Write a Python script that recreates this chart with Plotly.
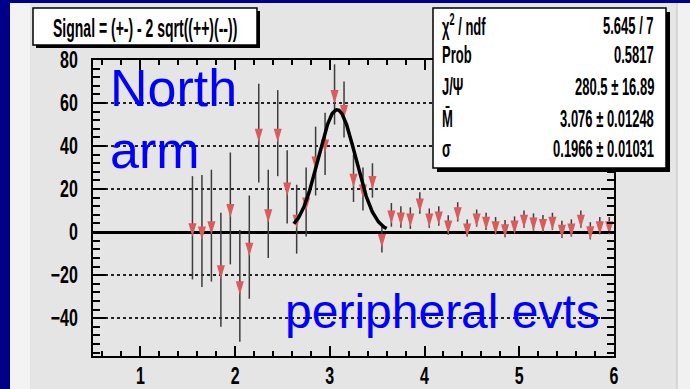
import numpy as np
import plotly.graph_objects as go

# Signal per 0.1 GeV mass bin: bin centres, values and errors
mass = [1.55, 1.65, 1.75, 1.85, 1.95, 2.05, 2.15, 2.25, 2.35, 2.45,
        2.55, 2.65, 2.75, 2.85, 2.95, 3.05, 3.15, 3.25, 3.35, 3.45,
        3.55, 3.65, 3.75, 3.85, 3.95, 4.05, 4.15, 4.25, 4.35, 4.45,
        4.55, 4.65, 4.75, 4.85, 4.95, 5.05, 5.15, 5.25, 5.35, 5.45,
        5.55, 5.65, 5.75, 5.85, 5.95]
signal = [2.0, 0.5, 3.0, -17.5, 11.0, -25.0, -7.0, 46.0, 8.5, 46.0,
          21.0, 6.0, 14.0, 33.0, 41.0, 64.0, 57.0, 25.0, 20.0, 24.0,
          -3.0, 8.0, 7.0, 6.5, 13.5, 6.5, 7.5, 3.3, 9.4, 1.9,
          6.5, 5.0, 3.0, 1.6, 3.3, 6.0, 4.7, 4.0, 5.0, 1.3,
          1.9, 6.0, 0.6, 3.0, 3.0]
signal_err = [24, 26, 26, 26.5, 26, 26, 24, 23, 20.5, 20,
              17, 16, 16, 16, 14.5, 14, 13, 11, 10, 8,
              6.5, 5.5, 5, 5, 5, 4.5, 4.5, 4.5, 4.5, 4,
              4, 4, 4, 4, 4, 4, 4, 4, 4, 4,
              4, 4, 4, 4, 4]

# Gaussian fit results
fit_yield = 280.5
fit_yield_err = 16.89
fit_mean = 3.076
fit_mean_err = 0.01248
fit_sigma = 0.1966
fit_sigma_err = 0.01031
chi2, ndf, prob = 5.645, 7, 0.5817
bin_width = 0.1
fit_range = (2.62, 3.6)

x_ticks = [1, 2, 3, 4, 5, 6]
y_ticks = [-40, -20, 0, 20, 40, 60, 80]

xf = np.linspace(fit_range[0], fit_range[1], 200)
yf = fit_yield * bin_width / (np.sqrt(2 * np.pi) * fit_sigma) * np.exp(-0.5 * ((xf - fit_mean) / fit_sigma) ** 2)

W, H = 690, 389
L, R, T, B = 93, 614, 60, 356


def fx(px):
    return (px - L) / (R - L)


def fy(py):
    return (B - py) / (B - T)


fig = go.Figure()
fig.add_trace(go.Scatter(
    x=mass, y=signal, mode="markers",
    marker=dict(symbol="triangle-down", size=10, color="#d95b5c", line=dict(width=0)),
    error_y=dict(type="data", array=signal_err, visible=True, color="#3c3c3c", thickness=1.5, width=0),
    showlegend=False, hoverinfo="skip"))
fig.add_trace(go.Scatter(
    x=xf, y=yf, mode="lines", line=dict(color="black", width=3.5),
    showlegend=False, hoverinfo="skip"))

root_font = "Arial, Liberation Sans, sans-serif"
axis_common = dict(showline=True, linecolor="black", linewidth=2, mirror="ticks",
                   ticks="inside", tickcolor="black", tickwidth=2, automargin=False,
                   tickfont=dict(family=root_font, size=16, color="black", weight="bold"))

fig.update_xaxes(range=[0.5, 6], tickvals=x_ticks, ticklen=10, showgrid=False, zeroline=False,
                 minor=dict(dtick=0.2, tick0=0, ticklen=5, ticks="inside", tickcolor="black", tickwidth=1.5),
                 ticklabelstandoff=4, **axis_common)
fig.update_yaxes(range=[-57.6, 80], tickvals=y_ticks, ticklen=13,
                 showgrid=True, gridcolor="#222222", gridwidth=1.5, griddash="dot",
                 zeroline=True, zerolinecolor="black", zerolinewidth=2.5,
                 minor=dict(dtick=4, tick0=0, ticklen=7, ticks="inside", tickcolor="black", tickwidth=1.5),
                 ticklabelstandoff=10, **axis_common)

shapes = []


def rect(x0, y0, x1, y1, fill, line_color=None, line_width=0, layer="above"):
    shapes.append(dict(type="rect", xref="paper", yref="paper",
                       x0=fx(x0), x1=fx(x1), y0=fy(y1), y1=fy(y0),
                       fillcolor=fill, layer=layer,
                       line=dict(color=line_color or fill, width=line_width)))


# slide background around the canvas
rect(0, 0, 10, H, "#000088", layer="below")
rect(0, 0, W, 3, "#000090", layer="below")
rect(10, 3, 30, H, "#f3f3f3", layer="below")
rect(677, 3, W, H, "#f1f1f1", layer="below")
rect(676.5, 3, 677.5, H, "#c4c4c4", layer="below")

# title pave
rect(36, 11, 260, 48, "black")
rect(33, 8, 257, 45, "white", "black", 1.5)
# fit statistics box
rect(437, 12, 670, 172, "black")
rect(433, 8, 666, 168, "white", "black", 1.5)
fig.update_layout(shapes=shapes)

bold_font = dict(family=root_font, color="black", weight="bold")
annotations = [dict(text="Signal = (+-) - 2 sqrt((++)(--))", x=fx(145), y=fy(28),
                    xanchor="center", yanchor="middle", font=dict(bold_font, size=14))]

stat_rows = [
    ("\u03c7<sup>2</sup> / ndf", f"{chi2} / {ndf}", 25),
    ("Prob", f"{prob}", 54),
    ("J/\u03a8", f"{fit_yield} \u00b1 {fit_yield_err}", 86),
    ("M\u0304", f"{fit_mean} \u00b1 {fit_mean_err}", 118),
    ("\u03c3", f"{fit_sigma} \u00b1 {fit_sigma_err}", 148),
]
for left, right, py in stat_rows:
    annotations.append(dict(text=left, x=fx(441), y=fy(py), xanchor="left", yanchor="middle",
                            font=dict(bold_font, size=13)))
    annotations.append(dict(text=right, x=fx(655), y=fy(py), xanchor="right", yanchor="middle",
                            font=dict(bold_font, size=13)))

blue_font = dict(family="Arial, Liberation Sans, sans-serif", size=52, color="#0000ff")
annotations += [
    dict(text="North", x=fx(109), y=fy(88), xanchor="left", yanchor="middle", font=blue_font),
    dict(text="arm", x=fx(109), y=fy(150), xanchor="left", yanchor="middle", font=blue_font),
    dict(text="peripheral evts", x=fx(284), y=fy(311), xanchor="left", yanchor="middle",
         font=dict(blue_font, size=48)),
]
for a in annotations:
    a.update(xref="paper", yref="paper", showarrow=False, borderpad=0)
fig.update_layout(annotations=annotations)

fig.update_layout(width=W, height=H, margin=dict(l=L, r=W - R, t=T, b=H - B, autoexpand=False),
                  paper_bgcolor="#e5e5e5", plot_bgcolor="#e5e5e5")

# ROOT-style tall, narrow lettering and markers
post = """
var gd = document.querySelector('.plotly-graph-div');
function stretch(el, sy) {
  var b = el.getBBox();
  var cy = b.y + b.height / 2;
  var t = el.getAttribute('transform') || '';
  el.setAttribute('transform', t + ' translate(0,' + cy + ') scale(1,' + sy + ') translate(0,' + (-cy) + ')');
}
gd.querySelectorAll('.xtick text').forEach(function (el) { stretch(el, 1.5); });
gd.querySelectorAll('.ytick text').forEach(function (el) { stretch(el, 1.5); });
gd.querySelectorAll('.annotation-text').forEach(function (el) {
  if ((el.style.fill || '').indexOf('0, 0, 255') < 0) { stretch(el, 1.8); }
});
gd.querySelectorAll('.scatterlayer .points path.point').forEach(function (el) {
  var t = el.getAttribute('transform') || '';
  el.setAttribute('transform', t + ' scale(0.7,1.8)');
});
"""
fig.write_html("out.html", post_script=post)
